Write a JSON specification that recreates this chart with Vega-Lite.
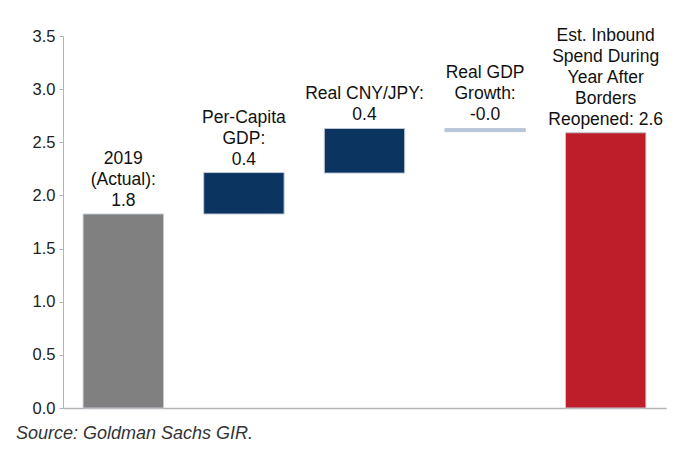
{
  "$schema": "https://vega.github.io/schema/vega-lite/v6.json",
  "width": 603,
  "height": 372,
  "autosize": {"type": "none"},
  "padding": {"left": 63, "top": 36, "right": 9, "bottom": 41},
  "background": "white",
  "config": {"view": {"stroke": null}, "font": "Liberation Sans"},
  "title": {
    "text": "Source: Goldman Sachs GIR.",
    "orient": "bottom",
    "anchor": "start",
    "frame": "group",
    "dx": -47,
    "offset": 8,
    "font": "Liberation Sans",
    "fontSize": 18,
    "fontStyle": "italic",
    "fontWeight": "normal",
    "color": "#333333"
  },
  "datasets": {
    "bars": [
      {"cat": "2019", "start": 0, "end": 1.825, "kind": "base"},
      {"cat": "Per-Capita GDP", "start": 1.825, "end": 2.215, "kind": "up"},
      {"cat": "Real CNY/JPY", "start": 2.21, "end": 2.63, "kind": "up"},
      {"cat": "Real GDP Growth", "start": 2.6, "end": 2.63, "kind": "down"},
      {"cat": "Est. Inbound", "start": 0, "end": 2.59, "kind": "total"}
    ],
    "labels": [
      {"cat": "2019", "end": 1.825, "pos": 2, "text": "2019"},
      {"cat": "2019", "end": 1.825, "pos": 1, "text": "(Actual):"},
      {"cat": "2019", "end": 1.825, "pos": 0, "text": "1.8"},
      {"cat": "Per-Capita GDP", "end": 2.215, "pos": 2, "text": "Per-Capita"},
      {"cat": "Per-Capita GDP", "end": 2.215, "pos": 1, "text": "GDP:"},
      {"cat": "Per-Capita GDP", "end": 2.215, "pos": 0, "text": "0.4"},
      {"cat": "Real CNY/JPY", "end": 2.63, "pos": 1, "text": "Real CNY/JPY:"},
      {"cat": "Real CNY/JPY", "end": 2.63, "pos": 0, "text": "0.4"},
      {"cat": "Real GDP Growth", "end": 2.63, "pos": 2, "text": "Real GDP"},
      {"cat": "Real GDP Growth", "end": 2.63, "pos": 1, "text": "Growth:"},
      {"cat": "Real GDP Growth", "end": 2.63, "pos": 0, "text": "-0.0"},
      {"cat": "Est. Inbound", "end": 2.59, "pos": 4, "text": "Est. Inbound"},
      {"cat": "Est. Inbound", "end": 2.59, "pos": 3, "text": "Spend During"},
      {"cat": "Est. Inbound", "end": 2.59, "pos": 2, "text": "Year After"},
      {"cat": "Est. Inbound", "end": 2.59, "pos": 1, "text": "Borders"},
      {"cat": "Est. Inbound", "end": 2.59, "pos": 0, "text": "Reopened: 2.6"}
    ]
  },
  "encoding": {
    "x": {
      "field": "cat",
      "type": "nominal",
      "sort": ["2019", "Per-Capita GDP", "Real CNY/JPY", "Real GDP Growth", "Est. Inbound"],
      "scale": {"paddingInner": 0.3333, "paddingOuter": 0.1667},
      "axis": {"title": null, "labels": false, "ticks": false, "domainColor": "#b3b3b3", "domainWidth": 1.5}
    }
  },
  "layer": [
    {
      "data": {"name": "bars"},
      "mark": {"type": "bar", "stroke": "#c0c8d4", "strokeWidth": 1},
      "encoding": {
        "y": {
          "field": "start",
          "type": "quantitative",
          "scale": {"domain": [0, 3.5], "nice": false},
          "axis": {
            "title": null,
            "values": [0, 0.5, 1, 1.5, 2, 2.5, 3, 3.5],
            "format": ".1f",
            "grid": false,
            "domainColor": "#b3b3b3",
            "tickColor": "#b3b3b3",
            "tickSize": 4,
            "labelFontSize": 16.5,
            "labelColor": "#222222",
            "labelPadding": 4,
            "labelFont": "Liberation Sans"
          }
        },
        "y2": {"field": "end"},
        "color": {
          "field": "kind",
          "type": "nominal",
          "scale": {"domain": ["base", "up", "down", "total"], "range": ["#808080", "#0b3560", "#b4c6dc", "#be1e2a"]},
          "legend": null
        }
      }
    },
    {
      "data": {"name": "labels"},
      "transform": [{"filter": "datum.pos == 0"}],
      "mark": {"type": "text", "baseline": "alphabetic", "align": "center", "dy": -8, "fontSize": 17.5, "color": "#111111", "font": "Liberation Sans"},
      "encoding": {"y": {"field": "end", "type": "quantitative"}, "text": {"field": "text"}}
    },
    {
      "data": {"name": "labels"},
      "transform": [{"filter": "datum.pos == 1"}],
      "mark": {"type": "text", "baseline": "alphabetic", "align": "center", "dy": -29, "fontSize": 17.5, "color": "#111111", "font": "Liberation Sans"},
      "encoding": {"y": {"field": "end", "type": "quantitative"}, "text": {"field": "text"}}
    },
    {
      "data": {"name": "labels"},
      "transform": [{"filter": "datum.pos == 2"}],
      "mark": {"type": "text", "baseline": "alphabetic", "align": "center", "dy": -50, "fontSize": 17.5, "color": "#111111", "font": "Liberation Sans"},
      "encoding": {"y": {"field": "end", "type": "quantitative"}, "text": {"field": "text"}}
    },
    {
      "data": {"name": "labels"},
      "transform": [{"filter": "datum.pos == 3"}],
      "mark": {"type": "text", "baseline": "alphabetic", "align": "center", "dy": -71, "fontSize": 17.5, "color": "#111111", "font": "Liberation Sans"},
      "encoding": {"y": {"field": "end", "type": "quantitative"}, "text": {"field": "text"}}
    },
    {
      "data": {"name": "labels"},
      "transform": [{"filter": "datum.pos == 4"}],
      "mark": {"type": "text", "baseline": "alphabetic", "align": "center", "dy": -92, "fontSize": 17.5, "color": "#111111", "font": "Liberation Sans"},
      "encoding": {"y": {"field": "end", "type": "quantitative"}, "text": {"field": "text"}}
    }
  ]
}
